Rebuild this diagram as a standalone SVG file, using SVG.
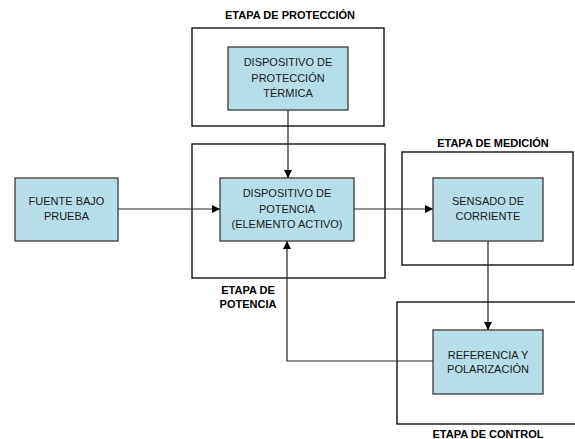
<svg xmlns="http://www.w3.org/2000/svg" width="575" height="439" viewBox="0 0 575 439">
<style>
.stage{fill:none;stroke:#000;stroke-width:1.3}
.node{fill:#B7DDE8;stroke:#3a3a3a;stroke-width:1.3}
.t{font-family:"Liberation Sans",Arial,sans-serif;font-size:11px;fill:#1a1a1a;text-anchor:middle}
.h{font-family:"Liberation Sans",Arial,sans-serif;font-size:11px;font-weight:bold;fill:#000;text-anchor:middle}
.c{fill:none;stroke:#222;stroke-width:1.2}
</style>
<defs>
<marker id="ah" viewBox="0 0 10 10" refX="10" refY="5" markerWidth="8" markerHeight="8" markerUnits="userSpaceOnUse" orient="auto">
<path d="M0,0 L10,5 L0,10 z" fill="#000"/>
</marker>
</defs>
<rect width="575" height="439" fill="#fff"/>
<g id="stages">
<g id="etapa-proteccion"><rect class="stage" x="192" y="28" width="192" height="98"/><text class="h" x="290" y="19">ETAPA DE PROTECCIÓN</text></g>
<g id="etapa-potencia"><rect class="stage" x="192" y="144" width="193" height="134"/><text class="h" x="248" y="294">ETAPA DE</text><text class="h" x="248" y="308">POTENCIA</text></g>
<g id="etapa-medicion"><rect class="stage" x="402" y="152" width="171" height="113"/><text class="h" x="493" y="147">ETAPA DE MEDICIÓN</text></g>
<g id="etapa-control"><rect class="stage" x="397" y="302" width="190" height="122"/><text class="h" x="488" y="438">ETAPA DE CONTROL</text></g>
</g>
<g id="connectors">
<line class="c" x1="288" y1="110" x2="288" y2="178" marker-end="url(#ah)"/>
<line class="c" x1="118" y1="209" x2="220" y2="209" marker-end="url(#ah)"/>
<line class="c" x1="354" y1="209" x2="433" y2="209" marker-end="url(#ah)"/>
<line class="c" x1="488" y1="241" x2="488" y2="330" marker-end="url(#ah)"/>
<polyline class="c" points="433,361 287,361 287,241" marker-end="url(#ah)"/>
</g>
<g id="proteccion-termica"><rect class="node" x="228" y="47" width="120" height="63"/><text class="t" x="288" y="66">DISPOSITIVO DE</text><text class="t" x="288" y="82">PROTECCIÓN</text><text class="t" x="288" y="97">TÉRMICA</text></g>
<g id="fuente"><rect class="node" x="15" y="178" width="103" height="63"/><text class="t" x="66.5" y="205">FUENTE BAJO</text><text class="t" x="66.5" y="220">PRUEBA</text></g>
<g id="dispositivo-potencia"><rect class="node" x="220" y="178" width="134" height="63"/><text class="t" x="287" y="197">DISPOSITIVO DE</text><text class="t" x="287" y="213">POTENCIA</text><text class="t" x="287" y="228">(ELEMENTO ACTIVO)</text></g>
<g id="sensado"><rect class="node" x="433" y="178" width="110" height="63"/><text class="t" x="488" y="205">SENSADO DE</text><text class="t" x="488" y="220">CORRIENTE</text></g>
<g id="referencia"><rect class="node" x="433" y="330" width="110" height="64"/><text class="t" x="488" y="359">REFERENCIA Y</text><text class="t" x="488" y="373">POLARIZACIÓN</text></g>
</svg>
